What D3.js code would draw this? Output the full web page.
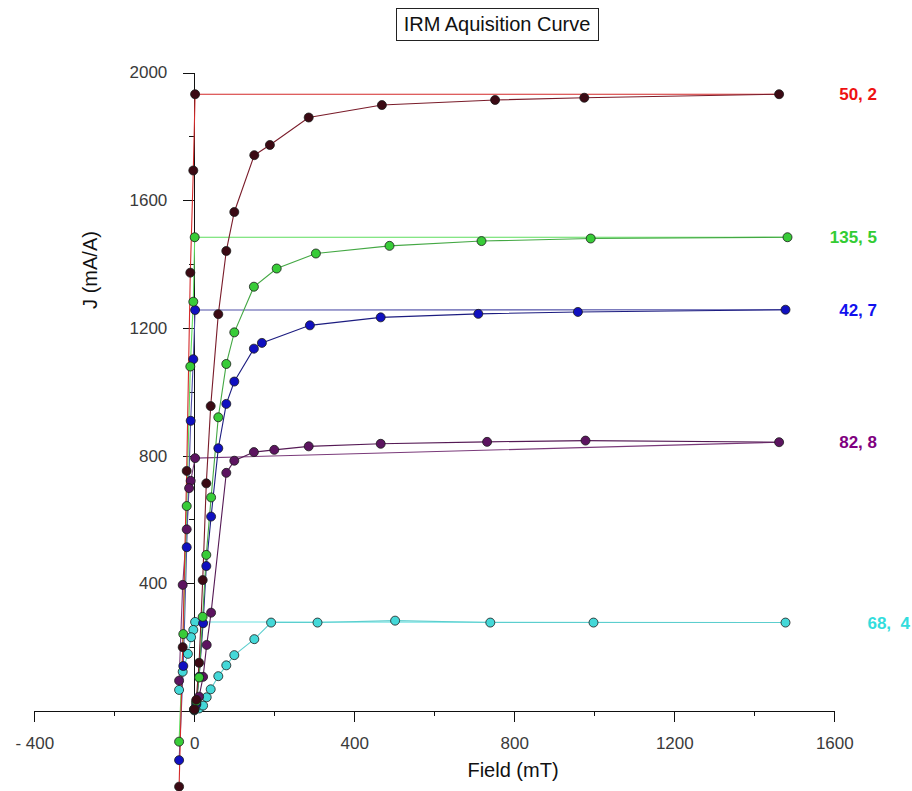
<!DOCTYPE html>
<html>
<head>
<meta charset="utf-8">
<script src="https://cdn.jsdelivr.net/npm/d3@7"></script>
<style>
  html, body { margin: 0; padding: 0; background: #fff; }
  svg { display: block; font-family: Arial, "Liberation Sans", sans-serif; }
</style>
</head>
<body>
<svg id="chart" width="912" height="791"></svg>
<script>
// ---------------- DATA ----------------
const seriesLabels = ["50, 2", "135, 5", "42, 7", "82, 8", "68,  4"];

// Sample "50, 2"
const s1AcqField = [0, 5, 12, 21, 30, 41, 60, 80, 100, 150, 189, 286, 469, 752, 975, 1462];
const s1AcqJ     = [5, 35, 151, 410, 713, 955, 1243, 1441, 1563, 1741, 1773, 1859, 1898, 1914, 1921, 1932];
const s1BackField = [2, -2.5, -10, -19, -29, -38];
const s1BackJ     = [1932, 1693, 1373, 752, 200, -237];

// Sample "135, 5"
const s2AcqField = [0, 5, 12, 21, 30, 42, 60, 80, 100, 149, 206, 304, 488, 718, 991, 1483];
const s2AcqJ     = [5, 30, 105, 295, 489, 669, 920, 1087, 1186, 1329, 1386, 1433, 1457, 1472, 1480, 1484];
const s2BackField = [1, -2.5, -10, -19, -27.5, -38];
const s2BackJ     = [1484, 1282, 1079, 642, 241, -96];

// Sample "42, 7"
const s3AcqField = [0, 5, 12, 22, 30, 42, 60, 80, 100, 149, 169, 289, 466, 710, 959, 1478];
const s3AcqJ     = [5, 25, 107, 275, 454, 609, 823, 962, 1032, 1135, 1153, 1208, 1233, 1244, 1250, 1257];
const s3BackField = [2, -2.5, -9, -19, -27.5, -38];
const s3BackJ     = [1256, 1102, 909, 513, 141, -154];

// Sample "82, 8"
const s4AcqField = [0, 5, 12, 22, 31, 42, 80, 100, 149, 200, 286, 466, 732, 978, 1462];
const s4AcqJ     = [5, 20, 45, 107, 207, 308, 746, 784, 811, 818, 829, 837, 843, 847, 842];
const s4BackField = [2, -9, -13, -19, -29, -38];
const s4BackJ     = [792, 721, 698, 569, 395, 95];

// Sample "68,  4"
const s5AcqField = [0, 12, 22, 31, 41, 60, 80, 100, 150, 192, 308, 502, 740, 998, 1478];
const s5AcqJ     = [2, 8, 17, 43, 68, 109, 143, 175, 225, 277, 277, 283, 277, 277, 277];
const s5BackField = [2, -2.5, -8, -16, -29, -38];
const s5BackJ     = [279, 254, 231, 179, 123, 66];

const xMajorTicks = [-400, 0, 400, 800, 1200, 1600];
const xMajorLabels = ["- 400", "0", "400", "800", "1200", "1600"];
const xMinorTicks = [-200, 200, 600, 1000, 1400];
const yMajorTicks = [400, 800, 1200, 1600, 2000];
const yMajorLabels = ["400", "800", "1200", "1600", "2000"];
const yMinorTicks = [200, 600, 1000, 1400, 1800];

const titleText = "IRM Aquisition Curve";
const xTitle = "Field (mT)";
const yTitle = "J (mA/A)";

// ---------------- STYLE ----------------
const markerFill = ["#3b0a14", "#38cc38", "#1010c0", "#5c1460", "#44d8d8"];
const acqLineColor = ["#7a1c2a", "#44a844", "#1c1c80", "#551a55", "#5ccece"];
const backLineColor = ["#d42a2a", "#5ddd5d", "#5050a8", "#7a3a7a", "#6ae0e0"];
const labelColor = ["#ee1111", "#33cc33", "#1111ee", "#800080", "#33dddd"];
const labelExtraDx = [0, 0, 0, 0, 33];

// ---------------- BUILD ----------------
const acqFields = [s1AcqField, s2AcqField, s3AcqField, s4AcqField, s5AcqField];
const acqJs = [s1AcqJ, s2AcqJ, s3AcqJ, s4AcqJ, s5AcqJ];
const backFields = [s1BackField, s2BackField, s3BackField, s4BackField, s5BackField];
const backJs = [s1BackJ, s2BackJ, s3BackJ, s4BackJ, s5BackJ];

const series = seriesLabels.map((lab, i) => ({
  label: lab, i,
  acq: acqFields[i].map((f, k) => ({ f, j: acqJs[i][k] })),
  back: backFields[i].map((f, k) => ({ f, j: backJs[i][k] }))
}));

const svg = d3.select("#chart");
const x = d3.scaleLinear().domain([-400, 1600]).range([34.3, 834.3]);
const y = d3.scaleLinear().domain([0, 2000]).range([711, 72.5]);

// Title
svg.append("rect").attr("x", 396.5).attr("y", 8.5).attr("width", 202).attr("height", 32)
  .attr("fill", "none").attr("stroke", "#222").attr("stroke-width", 1);
svg.append("text").attr("x", 497).attr("y", 31).attr("text-anchor", "middle")
  .attr("font-size", 20).attr("fill", "#111").text(titleText);

// Axes
const gx = svg.append("g").attr("transform", `translate(0,${y(0)})`)
  .call(d3.axisBottom(x).tickValues(xMajorTicks).tickSize(11).tickSizeOuter(0).tickPadding(15)
    .tickFormat((d, k) => xMajorLabels[k]));
gx.selectAll("text").attr("font-size", 17).attr("fill", "#3a3a3a").attr("font-family", "Arial, 'Liberation Sans', sans-serif");
const gxm = svg.append("g").attr("transform", `translate(0,${y(0)})`)
  .call(d3.axisBottom(x).tickValues(xMinorTicks).tickSize(5).tickSizeOuter(0).tickFormat(""));
gxm.select(".domain").remove();

const gy = svg.append("g").attr("transform", `translate(${x(0)},0)`)
  .call(d3.axisLeft(y).tickValues(yMajorTicks).tickSize(11).tickSizeOuter(0).tickPadding(16)
    .tickFormat((d, k) => yMajorLabels[k]));
gy.selectAll("text").attr("font-size", 17).attr("fill", "#3a3a3a").attr("font-family", "Arial, 'Liberation Sans', sans-serif");
const gym = svg.append("g").attr("transform", `translate(${x(0)},0)`)
  .call(d3.axisLeft(y).tickValues(yMinorTicks).tickSize(5).tickSizeOuter(0).tickFormat(""));
gym.select(".domain").remove();
svg.selectAll(".domain, .tick line").attr("stroke", "#111").attr("shape-rendering", "crispEdges");

// Axis titles
svg.append("text").attr("x", 513).attr("y", 777).attr("text-anchor", "middle")
  .attr("font-size", 20).attr("fill", "#111").text(xTitle);
svg.append("text").attr("transform", "translate(97,270) rotate(-90)").attr("text-anchor", "middle")
  .attr("font-size", 20).attr("fill", "#111").text(yTitle);

// Lines
const line = d3.line().x(d => x(d.f)).y(d => y(d.j));
const order = [4, 3, 2, 1, 0];
order.forEach(i => {
  const s = series[i];
  svg.append("path").attr("d", line([s.acq[s.acq.length - 1]].concat(s.back)))
    .attr("fill", "none").attr("stroke", backLineColor[i]).attr("stroke-width", 1.1);
  svg.append("path").attr("d", line(s.acq))
    .attr("fill", "none").attr("stroke", acqLineColor[i]).attr("stroke-width", 1.1);
});

// Markers
order.forEach(i => {
  const s = series[i];
  svg.append("g").selectAll("circle").data(s.acq.concat(s.back)).join("circle")
    .attr("cx", d => x(d.f)).attr("cy", d => y(d.j)).attr("r", 4.5)
    .attr("fill", markerFill[i]).attr("stroke", "#1a1a1a").attr("stroke-width", 0.8);
});

// Right labels
series.forEach(s => {
  const last = s.acq[s.acq.length - 1];
  svg.append("text").attr("x", 877 + labelExtraDx[s.i]).attr("y", y(last.j)).attr("dy", "0.35em")
    .attr("text-anchor", "end").attr("font-size", 17).attr("font-weight", "bold")
    .attr("fill", labelColor[s.i]).style("white-space", "pre").text(s.label);
});
</script>
</body>
</html>
